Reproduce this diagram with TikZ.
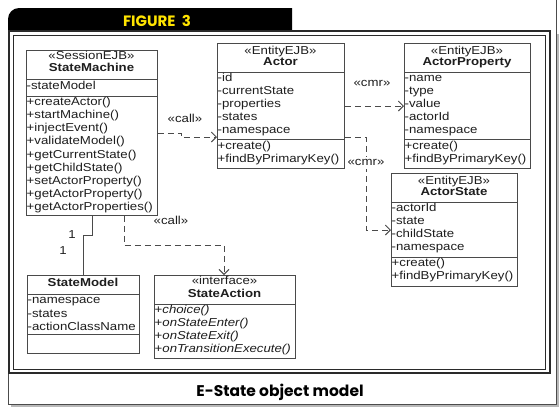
\documentclass[tikz,border=0pt]{standalone}
\usepackage{fontspec}
\setmainfont{Liberation Sans}
\newfontfamily\umlfont[FakeStretch=1.15]{Liberation Sans}
\newfontfamily\capfont{Poppins}
\usetikzlibrary{arrows.meta}
\definecolor{umlline}{HTML}{4A4A4A}
\definecolor{umltext}{HTML}{1E1E1E}
\definecolor{figyellow}{HTML}{FFE400}
\definecolor{frameline}{HTML}{2A2A2A}
\begin{document}
\begin{tikzpicture}[x=1pt,y=-1pt,
  umlbox/.style={draw=umlline, line width=0.9pt, fill=white, inner sep=0pt, anchor=north west},
  sepline/.style={draw=umlline, line width=0.9pt},
  txt/.style={inner sep=0pt, anchor=west, text=umltext, font=\umlfont\fontsize{11.5}{13}\selectfont, text height=8pt, text depth=2.5pt},
  ctr/.style={txt, anchor=center},
  hdr/.style={ctr, font=\umlfont\bfseries\fontsize{11.5}{13}\selectfont},
  dep/.style={draw=umlline, line width=0.9pt, dash pattern=on 6pt off 4pt, -{Straight Barb[length=5pt,width=10pt]}},
  assoc/.style={draw=umlline, line width=0.9pt},
  lbl/.style={ctr}
]
\useasboundingbox (0,0) rectangle (560,408);
% page with shadow
\fill[gray!55] (11,34) rectangle (559,407);
\fill[white] (8,31) rectangle (556,404);
\draw[gray!60!black, line width=0.8pt] (8,31) -- (8,404) -- (556,404) -- (556,0);
% tab
\fill[black] (8,31) -- (8,19) .. controls (8,13) and (13,8) .. (19,8) -- (292,8) -- (292,31) -- cycle;
\node[font=\capfont\bfseries\fontsize{15}{17}\selectfont, text=figyellow, anchor=base, inner sep=0pt] (fig) at (157,26) {FIGURE\ \ 3};
% double frame
\draw[frameline, line width=1.6pt] (9,31) rectangle (550,373);
\draw[frameline, line width=0.7pt] (13.5,35) rectangle (545.5,369.5);
% caption
\node[font=\capfont\bfseries\fontsize{15.5}{17}\selectfont, text=black, anchor=base, inner sep=0pt] (cap) at (280,396) {E-State object model};

% ---------- StateMachine ----------
\node[umlbox, minimum width=131pt, minimum height=165pt] (sm) at (26,50) {};
\node[ctr] (smst) at (91.5,57) {«SessionEJB»};
\node[hdr] (smnm) at (91.5,69) {StateMachine};
\draw[sepline] (26,79) -- (157,79);
\node[txt] at (26.5,87) {-stateModel};
\draw[sepline] (26,96) -- (157,96);
\foreach \t [count=\i from 0] in {+createActor(),+startMachine(),+injectEvent(),+validateModel(),+getCurrentState(),+getChildState(),+setActorProperty(),+getActorProperty(),+getActorProperties()}
  \node[txt] at (26.5,102.5+13.2*\i) {\t};

% ---------- Actor ----------
\node[umlbox, minimum width=127pt, minimum height=125pt] (ac) at (217,43) {};
\node[ctr] at (280.5,52) {«EntityEJB»};
\node[hdr] at (280.5,63) {Actor};
\draw[sepline] (217,72) -- (344,72);
\foreach \t [count=\i from 0] in {-id,-currentState,-properties,-states,-namespace}
  \node[txt] at (217.5,79+13*\i) {\t};
\draw[sepline] (217,139) -- (344,139);
\node[txt] at (217.5,147) {+create()};
\node[txt] at (217.5,160) {+findByPrimaryKey()};

% ---------- ActorProperty ----------
\node[umlbox, minimum width=126pt, minimum height=125pt] (ap) at (404,43) {};
\node[ctr] at (467,52) {«EntityEJB»};
\node[hdr] at (467,63) {ActorProperty};
\draw[sepline] (404,72) -- (530,72);
\foreach \t [count=\i from 0] in {-name,-type,-value,-actorId,-namespace}
  \node[txt] at (404.5,79+13*\i) {\t};
\draw[sepline] (404,139) -- (530,139);
\node[txt] at (404.5,147) {+create()};
\node[txt] at (404.5,160) {+findByPrimaryKey()};

% ---------- ActorState ----------
\node[umlbox, minimum width=126pt, minimum height=113pt] (as) at (391,173) {};
\node[ctr] at (454,182) {«EntityEJB»};
\node[hdr] at (454,193) {ActorState};
\draw[sepline] (391,202) -- (517,202);
\foreach \t [count=\i from 0] in {-actorId,-state,-childState,-namespace}
  \node[txt] at (391.5,209+13*\i) {\t};
\draw[sepline] (391,257) -- (517,257);
\node[txt] at (391.5,264) {+create()};
\node[txt] at (391.5,277) {+findByPrimaryKey()};

% ---------- StateModel ----------
\node[umlbox, minimum width=112pt, minimum height=78pt] (smod) at (27,275) {};
\node[hdr] at (83,284) {StateModel};
\draw[sepline] (27,294) -- (139,294);
\foreach \t [count=\i from 0] in {-namespace,-states,-actionClassName}
  \node[txt] at (27.5,301+13.5*\i) {\t};
\draw[sepline] (27,334) -- (139,334);

% ---------- StateAction ----------
\node[umlbox, minimum width=141pt, minimum height=83pt] (sa) at (154,275) {};
\node[ctr] at (224.5,282) {«interface»};
\node[hdr] at (224.5,295) {StateAction};
\draw[sepline] (154,304) -- (295,304);
\foreach \t [count=\i from 0] in {choice(),onStateEnter(),onStateExit(),onTransitionExecute()}
  \node[txt] at (154.5,310.5+13.2*\i) {+\itshape\t};

% ---------- connectors ----------
\draw[dep] (sm.east |- 0,133) -| (181,137) -- (ac.west |- 0,137);
\node[lbl] (lcall1) at (185,120) {«call»};
\draw[dep] (ac.east |- 0,106) -- (ap.west |- 0,106);
\node[lbl] (lcmr1) at (372,84) {«cmr»};
\draw[dep] (ac.east |- 0,137) -| (366,230) -- (as.west |- 0,230);
\node[lbl, fill=white, inner sep=1pt] (lcmr2) at (366,163) {«cmr»};
\draw[dep] (sm.south -| 124,0) |- (224,245) -- (sa.north -| 224,0);
\node[lbl] (lcall2) at (171,222) {«call»};
\draw[assoc] (sm.south -| 92,0) |- (83,235) -- (smod.north -| 83,0);
\node[lbl] (m1) at (72,236) {1};
\node[lbl] (m2) at (63,252) {1};
\end{tikzpicture}
\end{document}
